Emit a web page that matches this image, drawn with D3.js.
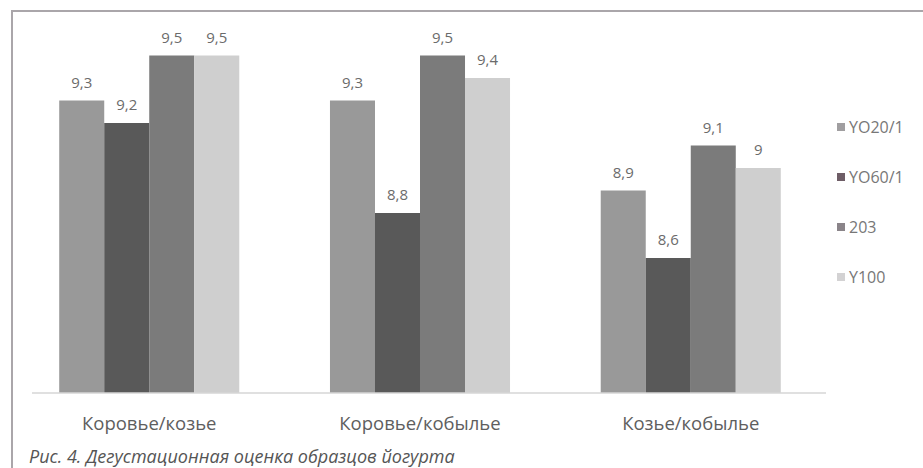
<!DOCTYPE html>
<html>
<head>
<meta charset="utf-8">
<script src="https://cdn.jsdelivr.net/npm/d3@7"></script>
<style>
  body { margin: 0; background: #fff; }
  text { font-family: "Open Sans", "Noto Sans", sans-serif; }
</style>
</head>
<body>
<div id="chart"></div>
<script>
var categories = ["Коровье/козье", "Коровье/кобылье", "Козье/кобылье"];
var seriesNames = ["YO20/1", "YO60/1", "203", "Y100"];
var seriesValues = [
    [9.3, 9.3, 8.9],   // YO20/1
    [9.2, 8.8, 8.6],   // YO60/1
    [9.5, 9.5, 9.1],   // 203
    [9.5, 9.4, 9.0]    // Y100
];
var valueLabels = [
    ["9,3", "9,3", "8,9"],
    ["9,2", "8,8", "8,6"],
    ["9,5", "9,5", "9,1"],
    ["9,5", "9,4", "9"]
];
var caption = "Рис. 4. Дегустационная оценка образцов йогурта";

var width = 923, height = 468;
var colors = ["#999999", "#595959", "#7b7b7b", "#cfcfcf"];
var legendColors = ["#a09ea0", "#6e5d66", "#8a8489", "#d3d2d3"];

var svg = d3.select("#chart").append("svg")
    .attr("width", width)
    .attr("height", height);

// frame
svg.append("path")
    .attr("d", "M12,468 L12,11 L923,11")
    .attr("fill", "none")
    .attr("stroke", "#aaa6aa")
    .attr("stroke-width", 2);

var x0 = d3.scaleBand()
    .domain(categories)
    .range([14, 826])
    .paddingInner(0.335)
    .paddingOuter(0.167);

var x1 = d3.scaleBand()
    .domain(seriesNames)
    .range([0, x0.bandwidth()]);

var y = d3.scaleLinear()
    .domain([8, 9.6])
    .range([393, 33]);

var data = [];
seriesNames.forEach(function(s, i) {
    categories.forEach(function(c, j) {
        data.push({series: s, idx: i, cat: c, value: seriesValues[i][j], label: valueLabels[i][j]});
    });
});

gBars = svg.append("g");

gBars.selectAll("rect")
    .data(data)
    .enter().append("rect")
    .attr("x", function(d) { return x0(d.cat) + x1(d.series); })
    .attr("y", function(d) { return y(d.value); })
    .attr("width", x1.bandwidth())
    .attr("height", function(d) { return y(8) - y(d.value); })
    .attr("fill", function(d) { return colors[d.idx]; });

gBars.selectAll("text")
    .data(data)
    .enter().append("text")
    .attr("x", function(d) { return x0(d.cat) + x1(d.series) + x1.bandwidth() / 2; })
    .attr("y", function(d) { return y(d.value) - 13; })
    .attr("text-anchor", "middle")
    .style("font-size", "15px")
    .style("fill", "#6b6b6b")
    .text(function(d) { return d.label; });

// baseline
svg.append("line")
    .attr("x1", 32).attr("x2", x0.range()[1])
    .attr("y1", y(8)).attr("y2", y(8))
    .attr("stroke", "#d6d6d6")
    .attr("stroke-width", 1.5);

// category labels
svg.append("g").selectAll("text")
    .data(categories)
    .enter().append("text")
    .attr("x", function(d) { return x0(d) + x0.bandwidth() / 2; })
    .attr("y", 430)
    .attr("text-anchor", "middle")
    .style("font-size", "18.5px")
    .style("fill", "#5e5e5e")
    .text(function(d) { return d; });

// legend
legend = svg.append("g").selectAll("g")
    .data(seriesNames)
    .enter().append("g")
    .attr("transform", function(d, i) { return "translate(837," + (127 + i * 50) + ")"; });

legend.append("rect")
    .attr("x", 0).attr("y", -4)
    .attr("width", 8).attr("height", 8)
    .attr("fill", function(d, i) { return legendColors[i]; });

legend.append("text")
    .attr("x", 12)
    .attr("y", 5.5)
    .style("font-size", "16px")
    .style("fill", "#777777")
    .text(function(d) { return d; });

// caption
svg.append("text")
    .attr("x", 29)
    .attr("y", 463)
    .style("font-size", "18px")
    .style("font-style", "italic")
    .style("fill", "#555555")
    .text(caption);
</script>
</body>
</html>
